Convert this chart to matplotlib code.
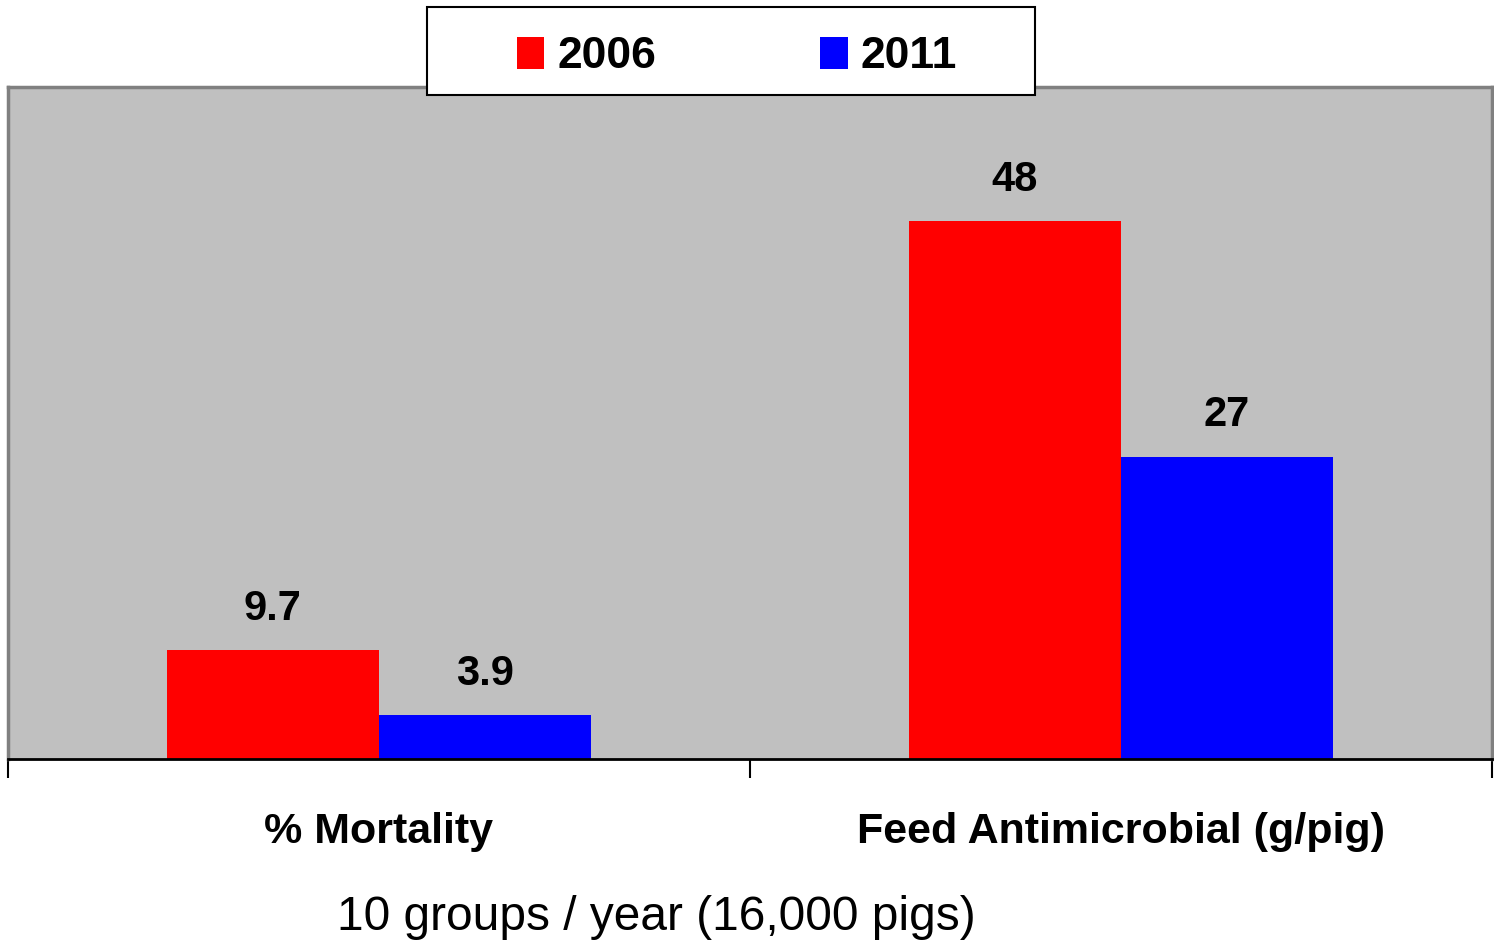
import matplotlib.pyplot as plt
from matplotlib.patches import Rectangle
import numpy as np

plt.rcParams['font.family'] = ['Liberation Sans', 'DejaVu Sans']

categories = ['% Mortality', 'Feed Antimicrobial (g/pig)']
years = ['2006', '2011']
vals_2006 = [9.7, 48]
vals_2011 = [3.9, 27]
labels_2006 = ['9.7', '48']
labels_2011 = ['3.9', '27']
colors = ['#ff0000', '#0000ff']

fig = plt.figure(figsize=(14.94, 9.43), dpi=100)
ax = fig.add_axes([8 / 1494, 184 / 943, 1484 / 1494, 672 / 943])
ax.set_facecolor('#c0c0c0')

x = np.arange(len(categories))
w = 0.286
b1 = ax.bar(x - w / 2, vals_2006, w, color=colors[0], label=years[0])
b2 = ax.bar(x + w / 2, vals_2011, w, color=colors[1], label=years[1])

# value labels above bars
for bars, labs in [(b1, labels_2006), (b2, labels_2011)]:
    for r, t in zip(bars, labs):
        ax.text(r.get_x() + r.get_width() / 2, r.get_height() + 1.9, t,
                ha='center', va='bottom', fontsize=30, fontweight='bold')

ax.set_xlim(-0.5, 1.5)
ax.set_ylim(0, 60)
ax.set_yticks([])
ax.set_xticks([-0.5, 0.5, 1.5])
ax.set_xticklabels([])
ax.tick_params(axis='x', length=14, width=1.5, color='black')
for s in ['top', 'left', 'right']:
    ax.spines[s].set_color('#808080')
    ax.spines[s].set_linewidth(2.5)
ax.spines['bottom'].set_color('black')
ax.spines['bottom'].set_linewidth(2)

for i, c in enumerate(categories):
    ax.text(i, -6.5, c, ha='center', va='center', fontsize=31,
            fontweight='bold')

fig.text(656 / 1494, 1 - 918 / 943, '10 groups / year (16,000 pigs)',
         ha='center', va='center', fontsize=34.5)

# legend box (wider than the entries, like the original)
box = Rectangle((427 / 1494, 1 - 95 / 943), 608 / 1494, 88 / 943,
                transform=fig.transFigure, facecolor='white',
                edgecolor='black', linewidth=1.5, zorder=5)
fig.add_artist(box)
leg = fig.legend(loc='center', bbox_to_anchor=(737 / 1494, 1 - 57 / 943),
                 ncol=2, frameon=False,
                 prop={'size': 32, 'weight': 'bold'}, handlelength=0.62,
                 handleheight=0.75, handletextpad=0.3, columnspacing=3.68,
                 borderpad=0, borderaxespad=0)
leg.set_zorder(10)

fig.savefig('out.png', dpi=100)
